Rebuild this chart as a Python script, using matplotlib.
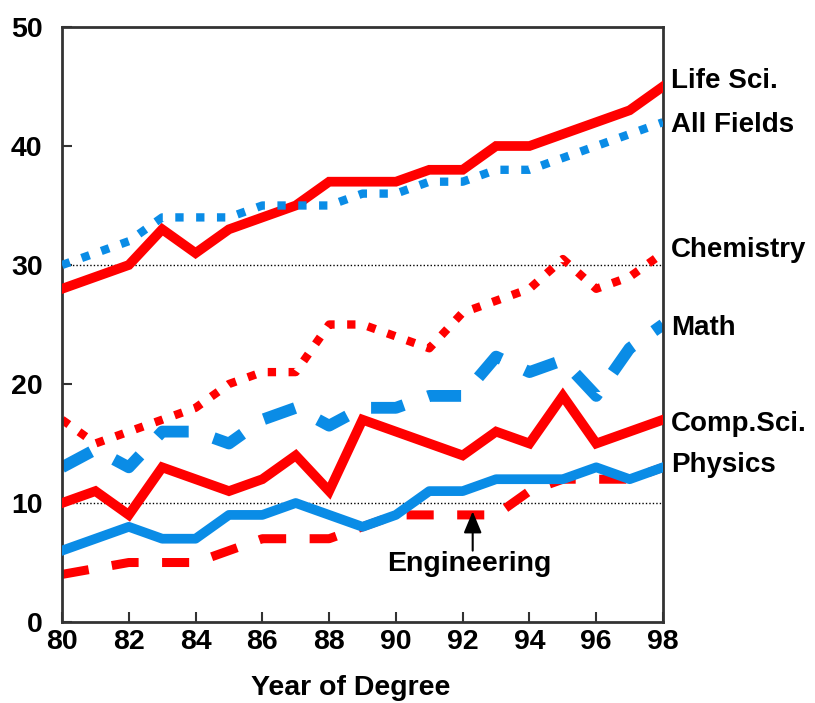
import matplotlib.pyplot as plt

# percent of degrees awarded to women, by field
years = list(range(80, 99))
life_sci = [28, 29, 30, 33, 31, 33, 34, 35, 37, 37, 37, 38, 38, 40, 40, 41, 42, 43, 45]
all_fields = [30, 31, 32, 34, 34, 34, 35, 35, 35, 36, 36, 37, 37, 38, 38, 39, 40, 41, 42]
chemistry = [17, 15, 16, 17, 18, 20, 21, 21, 25, 25, 24, 23, 26, 27, 28, 30.5, 28, 29, 31]
math = [13, 14.5, 13, 16, 16, 15, 17, 18, 16.5, 18, 18, 19, 19, 22.3, 21, 22, 19, 23, 25]
comp_sci = [10, 11, 9, 13, 12, 11, 12, 14, 11, 17, 16, 15, 14, 16, 15, 19, 15, 16, 17]
physics = [6, 7, 8, 7, 7, 9, 9, 10, 9, 8, 9, 11, 11, 12, 12, 12, 13, 12, 13]
engineering = [4, 4.5, 5, 5, 5, 6, 7, 7, 7, 8, 9, 9, 9, 9, 11, 12, 12, 12, 13]

label_names = ['Life Sci.', 'All Fields', 'Chemistry', 'Math', 'Comp.Sci.', 'Physics']
label_y = [45.5, 41.8, 31.3, 24.7, 16.6, 13.2]

RED = '#FF0000'
BLUE = '#0A8CE6'

plt.rcParams['font.family'] = ['Liberation Sans', 'DejaVu Sans']
plt.rcParams['font.weight'] = 'bold'

fig = plt.figure(figsize=(8.15, 7.03), dpi=100)
ax = fig.add_axes([0.0761, 0.1152, 0.7374, 0.8464])

for yv in (10, 30):
	ax.axhline(yv, color='black', lw=1, ls=(0, (1, 1.5)), zorder=1)

ax.plot(years, engineering, color=RED, lw=6.5, ls=(0, (3, 2.6)),
	dash_capstyle='butt', zorder=2)
ax.plot(years, physics, color=BLUE, lw=7, solid_joinstyle='round', zorder=3)
ax.plot(years, math, color=BLUE, lw=8.5, ls=(0, (2.8, 2.2)),
	dash_capstyle='butt', zorder=2)
ax.plot(years, comp_sci, color=RED, lw=7, solid_joinstyle='miter', zorder=3)
ax.plot(years, chemistry, color=RED, lw=6, ls=(0, (1, 1.5)),
	dash_capstyle='butt', zorder=2)
ax.plot(years, life_sci, color=RED, lw=7, solid_joinstyle='miter', zorder=3)
ax.plot(years, all_fields, color=BLUE, lw=6, ls=(0, (1, 1.5)),
	dash_capstyle='butt', zorder=4)

ax.set_xlim(80, 98)
ax.set_ylim(0, 50)
ax.set_xticks(range(80, 99, 2))
ax.set_yticks(range(0, 51, 10))
ax.tick_params(direction='in', length=7, width=1.5, labelsize=20.5, color='#333333')
ax.tick_params(axis='y', pad=14)
ax.tick_params(axis='x', pad=5)
for s in ax.spines.values():
	s.set_linewidth(2)
	s.set_color('#333333')
ax.set_xlabel('Year of Degree', fontsize=20.5, fontweight='bold', va='center')
ax.xaxis.set_label_coords(0.48, -0.111)

for name, yv in zip(label_names, label_y):
	ax.text(98.25, yv, name, fontsize=20, fontweight='bold', va='center',
		ha='left', clip_on=False)

ax.text(92.2, 4.9, 'Engineering', fontsize=20.5, fontweight='bold',
	ha='center', va='center')
ax.annotate('', xy=(92.3, 9.3), xytext=(92.3, 6.0),
	arrowprops=dict(arrowstyle='-|>,head_length=0.6,head_width=0.25',
		color='black', lw=1.5, mutation_scale=22, shrinkA=0, shrinkB=0))

fig.savefig('out.png', dpi=100)
